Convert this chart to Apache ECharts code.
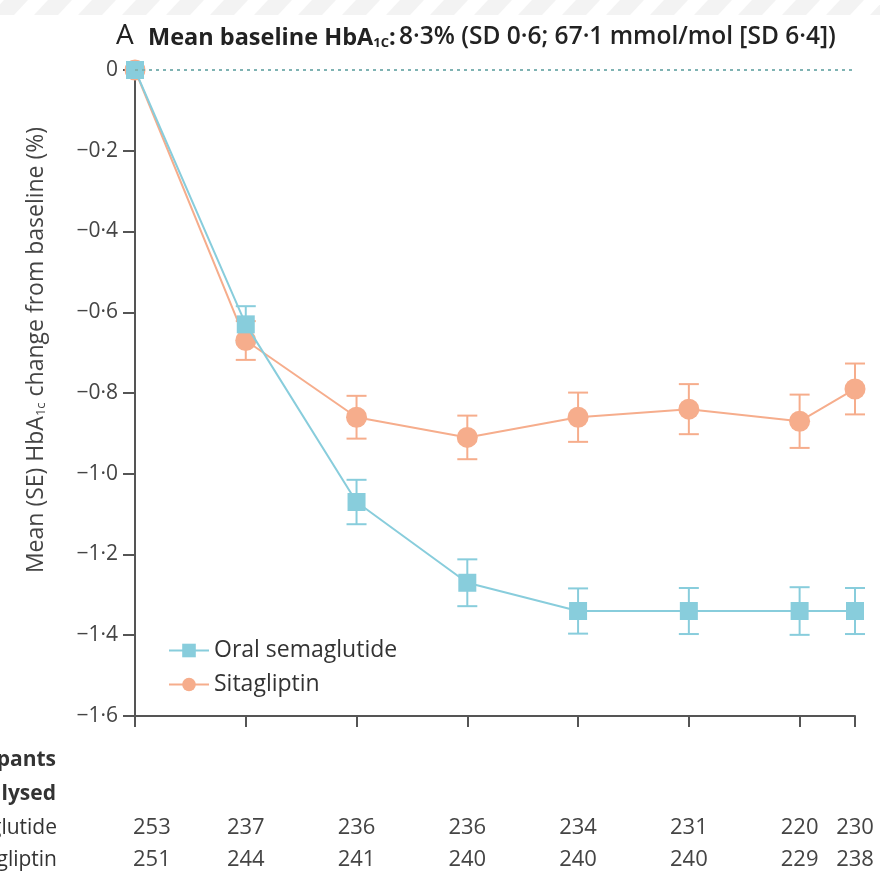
<!DOCTYPE html>
<html>
<head>
<meta charset="utf-8">
<script src="https://cdn.jsdelivr.net/npm/echarts@6/dist/echarts.min.js"></script>
<style>
  html, body { margin: 0; padding: 0; background: #ffffff; }
  #chart { width: 880px; height: 874px; }
</style>
</head>
<body>
<div id="chart"></div>
<script>
// Study weeks at which HbA1c was measured
const weeks = [0, 8, 16, 24, 32, 40, 48, 52];
// Mean change from baseline (%) and standard error, oral semaglutide
const semaMean = [0, -0.63, -1.07, -1.27, -1.34, -1.34, -1.34, -1.34];
const semaSE = [0, 0.045, 0.055, 0.058, 0.056, 0.057, 0.059, 0.057];
// Mean change from baseline (%) and standard error, sitagliptin
const sitaMean = [0, -0.67, -0.86, -0.91, -0.86, -0.84, -0.87, -0.79];
const sitaSE = [0, 0.048, 0.053, 0.054, 0.061, 0.062, 0.066, 0.063];
// Participants analysed at each visit
const semaN = [253, 237, 236, 236, 234, 231, 220, 230];
const sitaN = [251, 244, 241, 240, 240, 240, 229, 238];
// Y axis range and step
const yMin = -1.6, yMax = 0, yStep = 0.2;

const semaName = 'Oral semaglutide';
const sitaName = 'Sitagliptin';
const semaColor = '#88cddc';
const sitaColor = '#f6ad8c';
const axisColor = '#555555';
const textColor = '#444444';
const fontFam = '"Open Sans", "Noto Sans", sans-serif';

function fmtTick(v) {
  if (Math.abs(v) < 1e-9) return '0';
  return '\u2212' + Math.abs(v).toFixed(1).replace('.', '\u00b7');
}

function pairs(xs, ys) { return xs.map((x, i) => [x, ys[i]]); }
function errRows(xs, m, se) {
  return xs.map((x, i) => [x, m[i] - se[i], m[i] + se[i], se[i]]);
}

function errorBars(color) {
  return function (params, api) {
    if (api.value(3) <= 0) return null;
    const x = api.value(0);
    const lo = api.coord([x, api.value(1)]);
    const hi = api.coord([x, api.value(2)]);
    const cap = 10;
    const style = { stroke: color, lineWidth: 2 };
    return {
      type: 'group',
      children: [
        { type: 'line', shape: { x1: lo[0], y1: lo[1], x2: hi[0], y2: hi[1] }, style },
        { type: 'line', shape: { x1: lo[0] - cap, y1: lo[1], x2: lo[0] + cap, y2: lo[1] }, style },
        { type: 'line', shape: { x1: hi[0] - cap, y1: hi[1], x2: hi[0] + cap, y2: hi[1] }, style }
      ]
    };
  };
}

// Faint diagonal banner along the very top
const banner = [];
for (let k = -40; k < 920; k += 44) {
  banner.push({
    type: 'polygon', silent: true, z: 0,
    shape: { points: [[k, 0], [k + 24, 0], [k + 10, 15], [k - 14, 15]] },
    style: { fill: '#f3f3f3' }
  });
}

const chart = echarts.init(document.getElementById('chart'), null, { renderer: 'canvas' });

const option = {
  backgroundColor: '#ffffff',
  animation: false,
  textStyle: { fontFamily: fontFam },
  grid: { left: 135, right: 25, top: 70, bottom: 158, containLabel: false },
  xAxis: {
    type: 'value', min: 0, max: 52,
    axisLine: { onZero: false, lineStyle: { color: axisColor, width: 2 } },
    axisTick: { show: true, customValues: weeks, length: 11, lineStyle: { color: axisColor, width: 2 } },
    axisLabel: { show: false },
    splitLine: { show: false }
  },
  yAxis: {
    type: 'value', min: yMin, max: yMax, interval: yStep,
    axisLine: { show: true, onZero: false, lineStyle: { color: axisColor, width: 2 } },
    axisTick: { show: true, length: 12, lineStyle: { color: axisColor, width: 2 } },
    axisLabel: { formatter: fmtTick, fontSize: 21, color: textColor, margin: 17, fontFamily: fontFam },
    splitLine: { show: false }
  },
  legend: {
    orient: 'vertical', left: 163, top: 634,
    itemWidth: 40, itemHeight: 17, itemGap: 11,
    data: [semaName, sitaName],
    textStyle: { fontSize: 23, color: '#333', fontFamily: fontFam }
  },
  series: [
    {
      type: 'custom', name: 'semaErr', z: 1,
      renderItem: errorBars(semaColor),
      data: errRows(weeks, semaMean, semaSE),
      encode: { x: 0, y: [1, 2] }
    },
    {
      type: 'custom', name: 'sitaErr', z: 1,
      renderItem: errorBars(sitaColor),
      data: errRows(weeks, sitaMean, sitaSE),
      encode: { x: 0, y: [1, 2] }
    },
    {
      type: 'line', name: sitaName, z: 3,
      data: pairs(weeks, sitaMean),
      symbol: 'circle', symbolSize: 21,
      itemStyle: { color: sitaColor },
      lineStyle: { color: sitaColor, width: 2 }
    },
    {
      type: 'line', name: semaName, z: 4,
      data: pairs(weeks, semaMean),
      symbol: 'rect', symbolSize: 18,
      itemStyle: { color: semaColor },
      lineStyle: { color: semaColor, width: 2 },
      markLine: {
        silent: true, symbol: 'none', label: { show: false },
        lineStyle: { color: '#7fb3b3', width: 2, type: [3, 4] },
        data: [{ yAxis: 0 }]
      }
    }
  ]
};
chart.setOption(option);

// Title, y-axis caption and the participants table
const px = weeks.map(w => chart.convertToPixel({ xAxisIndex: 0 }, w));
const axisLeft = px[0];

const graphics = banner.slice();
graphics.push({
  type: 'text', left: 116, top: 22,
  style: { text: 'A', fontSize: 28, fill: '#222', fontFamily: fontFam }
});
graphics.push({
  type: 'text', left: 148, top: 25,
  style: {
    text: '{b|Mean baseline HbA}{s|1C}{b|:} {n|8\u00b73% (SD 0\u00b76; 67\u00b71 mmol/mol [SD 6\u00b74])}',
    rich: {
      b: { fontSize: 23.5, fontWeight: 'bold', fill: '#222', fontFamily: fontFam, verticalAlign: 'bottom' },
      s: { fontSize: 13, fontWeight: 'bold', fill: '#222', fontFamily: fontFam, padding: [13, 0, 0, 0], verticalAlign: 'bottom' },
      n: { fontSize: 24.5, fontWeight: 600, fill: '#222', fontFamily: fontFam, verticalAlign: 'bottom' }
    }
  }
});
graphics.push({
  type: 'text', x: 36, y: 350, rotation: Math.PI / 2,
  style: {
    text: '{t|Mean (SE) HbA}{s|1c}{t| change from baseline (%)}',
    align: 'center', verticalAlign: 'middle',
    rich: {
      t: { fontSize: 23, fill: textColor, fontFamily: fontFam, verticalAlign: 'bottom' },
      s: { fontSize: 13, fill: textColor, fontFamily: fontFam, padding: [11, 0, 0, 0], verticalAlign: 'bottom' }
    }
  }
});

const headStyle = { fontSize: 21, fontWeight: 'bold', fill: '#333', fontFamily: fontFam, align: 'right', verticalAlign: 'middle' };
graphics.push({ type: 'text', x: 56, y: 760, style: Object.assign({ text: 'Participants' }, headStyle) });
graphics.push({ type: 'text', x: 56, y: 794, style: Object.assign({ text: 'analysed' }, headStyle) });
const rowStyle = { fontSize: 21, fill: '#333', fontFamily: fontFam, align: 'right', verticalAlign: 'middle' };
graphics.push({ type: 'text', x: 57, y: 828, style: Object.assign({ text: semaName }, rowStyle) });
graphics.push({ type: 'text', x: 57, y: 860, style: Object.assign({ text: sitaName }, rowStyle) });

function addRow(values, y) {
  values.forEach((n, i) => {
    const first = i === 0;
    graphics.push({
      type: 'text', x: first ? axisLeft - 2 : px[i], y: y,
      style: {
        text: String(n), fontSize: 22, fill: textColor, fontFamily: fontFam,
        align: first ? 'left' : 'center', verticalAlign: 'middle'
      }
    });
  });
}
addRow(semaN, 828);
addRow(sitaN, 860);

chart.setOption({ graphic: graphics });
</script>
</body>
</html>
